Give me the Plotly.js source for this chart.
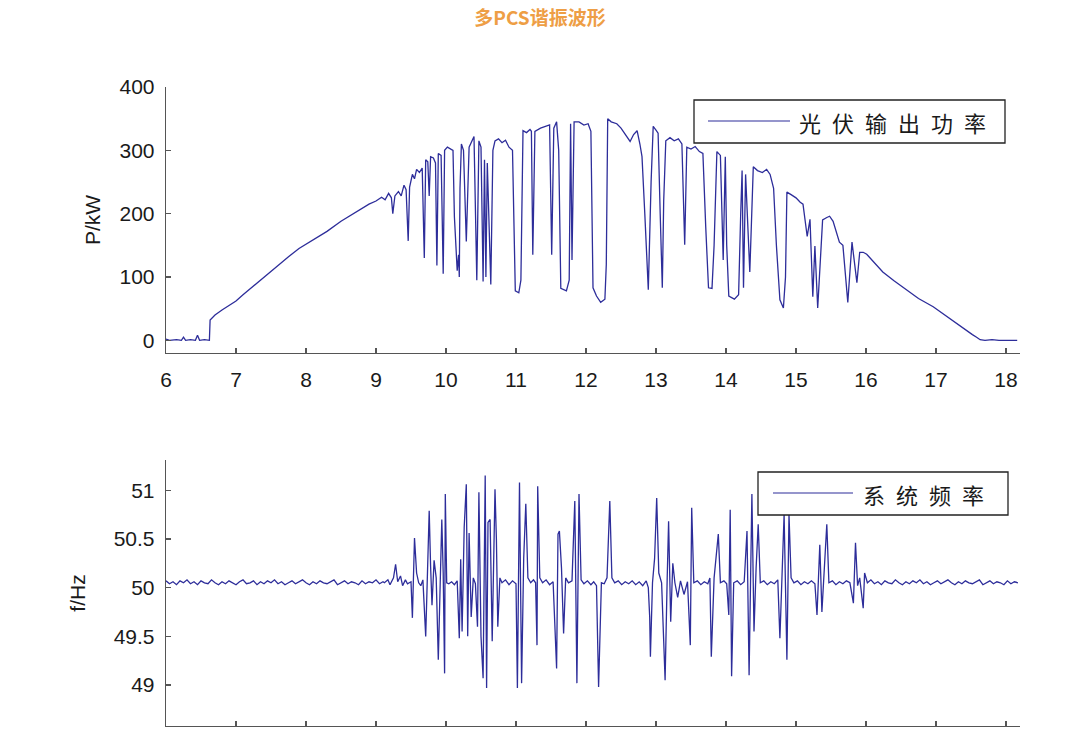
<!DOCTYPE html>
<html>
<head>
<meta charset="utf-8">
<script src="https://cdn.plot.ly/plotly-3.0.1.min.js"></script>
<style>
  html, body { margin: 0; padding: 0; background: #ffffff; }
  #chart { width: 1080px; height: 730px; }
  .annotation-text { letter-spacing: 11px; }
</style>
</head>
<body>
<div id="chart"></div>
<script>
// ---------- Data ----------
const chartTitle = '多PCS谐振波形';
const powerSeriesName = '光伏输出功率';
const freqSeriesName = '系统频率';
const powerAxisTitle = 'P/kW';
const freqAxisTitle = 'f/Hz';
const hourTicks = [6, 7, 8, 9, 10, 11, 12, 13, 14, 15, 16, 17, 18];
const powerTicks = [0, 100, 200, 300, 400];
const freqTicks = [49, 49.5, 50, 50.5, 51];
const freqTickText = ['49', '49.5', '50', '50.5', '51'];

// PV output power (hour of day, kW)
const powerTime = [
  6.00, 6.05, 6.15, 6.22, 6.25, 6.28, 6.35, 6.42, 6.45, 6.48, 6.55, 6.62, 6.63, 6.70, 6.80, 6.90,
  7.00, 7.10, 7.25, 7.40, 7.50, 7.60, 7.75, 7.90, 8.00, 8.15, 8.30, 8.50, 8.65, 8.80, 8.90, 9.00,
  9.08, 9.13, 9.18, 9.22, 9.24, 9.27, 9.32, 9.36, 9.40, 9.43, 9.46, 9.48, 9.52, 9.55, 9.58, 9.62,
  9.66, 9.69, 9.71, 9.74, 9.76, 9.78, 9.82, 9.85, 9.87, 9.89, 9.93, 9.96, 9.98, 10.02, 10.06, 10.10,
  10.12, 10.14, 10.16, 10.18, 10.19, 10.20, 10.22, 10.25, 10.29, 10.33, 10.40, 10.44, 10.47, 10.50,
  10.53, 10.55, 10.57, 10.59, 10.62, 10.64, 10.67, 10.70, 10.75, 10.80, 10.85, 10.90, 10.95, 10.97,
  10.99, 11.04, 11.07, 11.10, 11.15, 11.20, 11.22, 11.24, 11.27, 11.35, 11.42, 11.48, 11.51, 11.54,
  11.58, 11.61, 11.64, 11.72, 11.76, 11.78, 11.80, 11.83, 11.90, 11.97, 12.03, 12.07, 12.10, 12.15,
  12.21, 12.27, 12.29, 12.31, 12.36, 12.44, 12.50, 12.56, 12.63, 12.68, 12.73, 12.77, 12.80, 12.84,
  12.89, 12.93, 12.96, 13.00, 13.03, 13.06, 13.09, 13.11, 13.14, 13.20, 13.26, 13.32, 13.37, 13.41,
  13.44, 13.50, 13.56, 13.62, 13.67, 13.71, 13.75, 13.80, 13.83, 13.87, 13.92, 13.96, 13.99, 14.01,
  14.04, 14.12, 14.18, 14.21, 14.23, 14.25, 14.28, 14.34, 14.39, 14.45, 14.52, 14.58, 14.63, 14.68,
  14.72, 14.77, 14.82, 14.85, 14.87, 14.93, 15.00, 15.06, 15.10, 15.16, 15.20, 15.24, 15.27, 15.31,
  15.34, 15.38, 15.44, 15.48, 15.53, 15.58, 15.62, 15.67, 15.74, 15.80, 15.87, 15.91, 15.96, 16.01,
  16.10, 16.24, 16.40, 16.58, 16.75, 16.96, 17.10, 17.24, 17.35, 17.45, 17.52, 17.58, 17.63, 17.70,
  17.80, 17.90, 18.00, 18.10, 18.16
];
const powerKW = [
  2, 0, 1, 0, 5, 0, 1, 0, 8, 0, 1, 0, 32, 40, 48, 55,
  62, 72, 86, 100, 110, 118, 132, 145, 152, 162, 172, 188, 198, 208, 215, 220,
  226, 222, 232, 225, 200, 228, 235, 228, 245, 238, 157, 242, 262, 255, 270, 265,
  272, 130, 285, 282, 228, 290, 288, 280, 118, 295, 292, 105, 300, 305, 302, 300,
  195, 145, 110, 135, 100, 240, 310, 300, 156, 305, 322, 95, 315, 305,
  93, 285, 100, 280, 150, 88, 300, 315, 318, 312, 316, 305, 300, 150,
  78, 75, 95, 331, 328, 333, 330, 135, 330, 335, 338, 340, 135, 335,
  345, 300, 82, 78, 95, 342, 127, 345, 345, 340, 342, 330, 83, 70,
  60, 65, 120, 350, 345, 342, 335, 325, 314, 325, 331, 310, 290, 200,
  80, 250, 338, 332, 327, 200, 83, 220, 315, 320, 315, 318, 310, 151,
  305, 302, 306, 298, 295, 180, 83, 82, 150, 298, 292, 127, 290, 150,
  70, 65, 72, 200, 268, 83, 262, 108, 274, 268, 265, 270, 262, 240,
  150, 64, 51, 100, 234, 230, 225, 218, 215, 164, 191, 69, 149, 51,
  120, 190, 194, 196, 188, 170, 155, 150, 60, 155, 91, 139, 139, 136,
  125, 108, 94, 80, 66, 53, 42, 30, 22, 14, 9, 5, 1, 0,
  1, 0, 0, 1, 0
];

// System frequency (hour of day, Hz): quiet morning, oscillation period, quiet evening
const freqTimeMorning = [
  6.00, 6.05, 6.10, 6.15, 6.20, 6.25, 6.30, 6.35, 6.40, 6.45, 6.50, 6.55, 6.60, 6.65, 6.70, 6.75,
  6.80, 6.85, 6.90, 6.95, 7.00, 7.05, 7.10, 7.15, 7.20, 7.25, 7.30, 7.35, 7.40, 7.45, 7.50, 7.55,
  7.60, 7.65, 7.70, 7.75, 7.80, 7.85, 7.90, 7.95, 8.00, 8.05, 8.10, 8.15, 8.20, 8.25, 8.30, 8.35,
  8.40, 8.45, 8.50, 8.55, 8.60, 8.65, 8.70, 8.75, 8.80, 8.85, 8.90, 8.95, 9.00, 9.05, 9.10
];
const freqHzMorning = [
  50.07, 50.04, 50.06, 50.03, 50.07, 50.05, 50.08, 50.04, 50.06, 50.03,
  50.07, 50.05, 50.04, 50.08, 50.05, 50.03, 50.06, 50.04, 50.07, 50.05,
  50.03, 50.06, 50.08, 50.04, 50.05, 50.07, 50.03, 50.06, 50.04, 50.07,
  50.05, 50.08, 50.04, 50.06, 50.03, 50.05, 50.07, 50.04, 50.06, 50.08,
  50.05, 50.03, 50.06, 50.04, 50.07, 50.05, 50.04, 50.06, 50.08, 50.03,
  50.05, 50.07, 50.04, 50.06, 50.05, 50.03, 50.07, 50.04, 50.06, 50.05,
  50.08, 50.04, 50.06
];
const freqTimeOscillation = [
  9.12, 9.17, 9.20, 9.25, 9.28, 9.31, 9.35, 9.38, 9.42, 9.45, 9.50, 9.52, 9.55, 9.58, 9.61, 9.64,
  9.67, 9.71, 9.74, 9.76, 9.78, 9.80, 9.83, 9.86, 9.89, 9.92, 9.94, 9.96, 9.98, 9.99, 10.01, 10.04,
  10.08, 10.12, 10.16, 10.19, 10.21, 10.23, 10.26, 10.29, 10.31, 10.33, 10.36, 10.39, 10.42, 10.45,
  10.47, 10.50, 10.53, 10.56, 10.58, 10.60, 10.63, 10.66, 10.70, 10.72, 10.74, 10.77, 10.80, 10.85,
  10.90, 10.95, 11.00, 11.02, 11.05, 11.08, 11.11, 11.14, 11.17, 11.21, 11.25, 11.28, 11.30, 11.31,
  11.34, 11.38, 11.43, 11.48, 11.53, 11.58, 11.60, 11.62, 11.65, 11.68, 11.71, 11.75, 11.80, 11.84,
  11.87, 11.90, 11.93, 11.97, 12.02, 12.07, 12.11, 12.15, 12.18, 12.22, 12.26, 12.30, 12.34, 12.37,
  12.41, 12.46, 12.51, 12.56, 12.61, 12.66, 12.71, 12.76, 12.81, 12.86, 12.89, 12.91, 12.92, 12.95,
  12.98, 13.01, 13.04, 13.08, 13.13, 13.16, 13.18, 13.21, 13.24, 13.27, 13.31, 13.35, 13.40, 13.45,
  13.49, 13.51, 13.54, 13.59, 13.64, 13.69, 13.74, 13.77, 13.79, 13.83, 13.87, 13.89, 13.92, 13.97,
  14.01, 14.04, 14.06, 14.08, 14.11, 14.16, 14.21, 14.26, 14.30, 14.33, 14.37, 14.40, 14.43, 14.46,
  14.49, 14.54, 14.59, 14.64, 14.69, 14.74, 14.77, 14.80, 14.83, 14.87, 14.90, 14.93, 14.97, 15.02,
  15.07, 15.12, 15.17, 15.22, 15.27, 15.30, 15.34, 15.37, 15.41, 15.44, 15.47, 15.52, 15.57, 15.62,
  15.67, 15.72, 15.77, 15.82, 15.85, 15.88, 15.91, 15.94, 15.96, 15.98
];
const freqHzOscillation = [
  50.05, 50.08, 50.03, 50.10, 50.24, 50.06, 50.12, 50.02, 50.08, 50.04, 50.06, 49.69, 50.51, 50.15, 50.05, 50.02,
  50.08, 49.50, 50.20, 50.79, 50.22, 49.82, 50.28, 50.10, 49.26, 50.30, 50.70, 50.15, 49.12, 50.96, 50.05, 50.04,
  50.06, 50.03, 50.07, 49.48, 50.29, 49.55, 50.62, 51.06, 49.50, 50.56, 49.70, 50.10, 50.04, 49.60,
  50.98, 49.50, 49.07, 51.15, 48.97, 50.67, 50.70, 49.45, 51.01, 50.50, 49.60, 50.10, 50.05, 50.08,
  50.03, 50.07, 50.04, 48.97, 51.08, 49.02, 50.30, 50.86, 50.10, 50.05, 50.08, 50.05, 49.41, 51.04,
  50.10, 50.05, 50.08, 50.03, 50.06, 49.17, 50.55, 50.58, 50.20, 49.53, 50.10, 50.05, 50.07, 50.89,
  49.02, 50.96, 50.08, 50.04, 50.07, 50.03, 50.06, 50.02, 48.98, 50.05, 50.04, 50.10, 50.89, 50.10,
  50.05, 50.07, 50.03, 50.06, 50.04, 50.07, 50.03, 50.06, 50.02, 50.07, 50.00, 49.70, 49.29, 50.05,
  50.30, 50.92, 50.15, 50.05, 49.05, 50.10, 50.68, 49.65, 50.25, 50.05, 49.90, 50.07, 49.93, 50.06,
  49.41, 50.82, 50.05, 50.07, 50.03, 50.06, 50.04, 50.10, 49.29, 50.10, 50.45, 50.55, 50.05, 50.07,
  50.04, 49.72, 50.80, 49.09, 50.05, 50.07, 50.03, 50.06, 50.58, 49.10, 50.96, 49.55, 50.20, 50.65,
  50.05, 50.07, 50.03, 50.06, 50.04, 50.08, 49.48, 50.20, 50.75, 49.26, 50.75, 50.10, 50.05, 50.07,
  50.03, 50.06, 50.04, 50.07, 50.04, 49.72, 50.44, 49.75, 50.20, 50.65, 50.05, 50.07, 50.03, 50.06,
  50.04, 50.07, 50.05, 49.84, 50.46, 50.02, 50.10, 49.90, 49.79, 50.15
];
const freqTimeEvening = [
  16.02, 16.07, 16.12, 16.17, 16.22, 16.27, 16.32, 16.37, 16.42, 16.47, 16.52, 16.57, 16.62, 16.67,
  16.72, 16.77, 16.82, 16.87, 16.92, 16.97, 17.02, 17.07, 17.12, 17.17, 17.22, 17.27, 17.32, 17.37,
  17.42, 17.47, 17.52, 17.57, 17.62, 17.67, 17.72, 17.77, 17.82, 17.87, 17.92, 17.97, 18.02, 18.07,
  18.12, 18.17
];
const freqHzEvening = [
  50.05, 50.08, 50.04, 50.06, 50.03, 50.07, 50.05, 50.04, 50.08, 50.05,
  50.03, 50.06, 50.04, 50.07, 50.05, 50.08, 50.04, 50.06, 50.03, 50.05,
  50.07, 50.04, 50.06, 50.08, 50.05, 50.03, 50.06, 50.04, 50.07, 50.05,
  50.04, 50.06, 50.08, 50.03, 50.05, 50.07, 50.04, 50.06, 50.05, 50.03,
  50.07, 50.04, 50.06, 50.05
];

// ---------- Styling ----------
const lineColor = '#2d2d9a';
const axisColor = '#555555';
const latinFont = 'Liberation Sans, Arial, sans-serif';
const tickFont = { family: latinFont, size: 21, color: '#1a1a1a' };
const cjkFont = 'Noto Sans CJK SC, sans-serif';

const freqTime = freqTimeMorning.concat(freqTimeOscillation, freqTimeEvening);
const freqHz = freqHzMorning.concat(freqHzOscillation, freqHzEvening);

const traces = [
  { x: powerTime, y: powerKW, name: powerSeriesName, type: 'scatter', mode: 'lines',
    line: { color: lineColor, width: 1.3 }, xaxis: 'x', yaxis: 'y', showlegend: false },
  { x: freqTime, y: freqHz, name: freqSeriesName, type: 'scatter', mode: 'lines',
    line: { color: lineColor, width: 1.3 }, xaxis: 'x2', yaxis: 'y2', showlegend: false }
];

const W = 1080, H = 730;
const px = v => v / W;
const py = v => 1 - v / H;

const commonX = {
  range: [6, 18.2], tickvals: hourTicks, ticks: 'inside', ticklen: 5, tickwidth: 1.2, tickcolor: axisColor,
  showline: true, linecolor: axisColor, linewidth: 1.3, showgrid: false, zeroline: false,
  tickfont: tickFont, ticklabelstandoff: 7, domain: [px(166), px(1020)]
};
const commonY = {
  ticks: 'inside', ticklen: 5, tickwidth: 1.2, tickcolor: axisColor,
  showline: true, linecolor: axisColor, linewidth: 1.3, showgrid: false, zeroline: false,
  tickfont: tickFont, ticklabelstandoff: 6
};

const layout = {
  width: W, height: H,
  margin: { l: 0, r: 0, t: 0, b: 0 },
  paper_bgcolor: '#ffffff', plot_bgcolor: '#ffffff',
  showlegend: false,
  title: { text: '<b>' + chartTitle + '</b>', x: 0.5, xanchor: 'center', y: py(18), yanchor: 'middle',
           font: { family: cjkFont, size: 19, color: '#ee9e45' } },
  xaxis: Object.assign({}, commonX, { anchor: 'y' }),
  yaxis: Object.assign({}, commonY, {
    anchor: 'x', domain: [py(353), py(87)], range: [-20, 400], tickvals: powerTicks,
    title: { text: powerAxisTitle, standoff: 13, font: { family: latinFont, size: 21, color: '#1a1a1a' } }
  }),
  xaxis2: Object.assign({}, commonX, { anchor: 'y2', showticklabels: false }),
  yaxis2: Object.assign({}, commonY, {
    anchor: 'x2', domain: [py(726), py(460)], range: [48.58, 51.31], tickvals: freqTicks, ticktext: freqTickText,
    title: { text: freqAxisTitle, standoff: 22, font: { family: latinFont, size: 21, color: '#1a1a1a' } }
  }),
  shapes: [
    { type: 'rect', xref: 'paper', yref: 'paper', x0: px(694), x1: px(1005), y0: py(143), y1: py(100),
      line: { color: '#222222', width: 1.3 }, fillcolor: '#ffffff' },
    { type: 'line', xref: 'paper', yref: 'paper', x0: px(708), x1: px(790), y0: py(121), y1: py(121),
      line: { color: lineColor, width: 1.2 } },
    { type: 'rect', xref: 'paper', yref: 'paper', x0: px(758), x1: px(1008), y0: py(515), y1: py(472),
      line: { color: '#222222', width: 1.3 }, fillcolor: '#ffffff' },
    { type: 'line', xref: 'paper', yref: 'paper', x0: px(773), x1: px(853), y0: py(493), y1: py(493),
      line: { color: lineColor, width: 1.2 } }
  ],
  annotations: [
    { xref: 'paper', yref: 'paper', x: px(797), y: py(122), xanchor: 'left', yanchor: 'middle',
      text: powerSeriesName, showarrow: false, font: { family: cjkFont, size: 22, color: '#1a1a1a' } },
    { xref: 'paper', yref: 'paper', x: px(861), y: py(494), xanchor: 'left', yanchor: 'middle',
      text: freqSeriesName, showarrow: false, font: { family: cjkFont, size: 22, color: '#1a1a1a' } }
  ]
};

Plotly.newPlot('chart', traces, layout, { displayModeBar: false, staticPlot: true });
</script>
</body>
</html>
